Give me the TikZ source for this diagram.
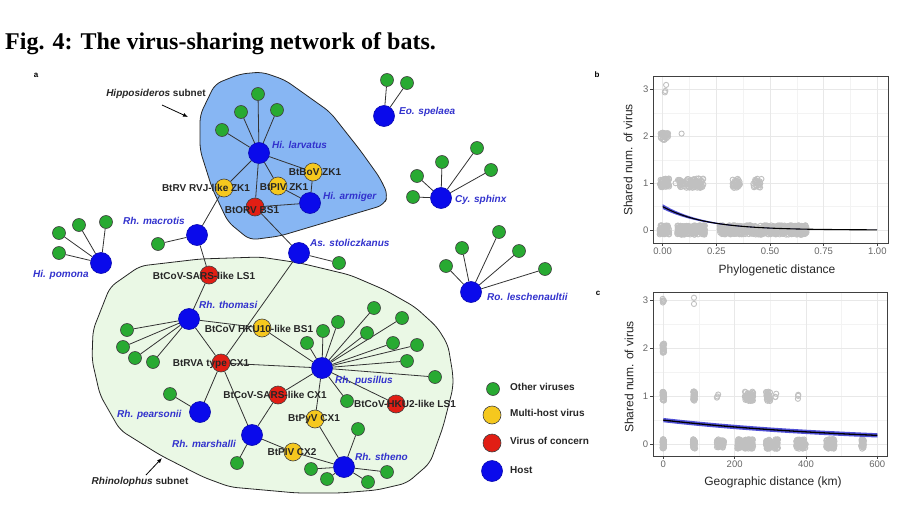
\documentclass[tikz,border=0pt]{standalone}
\usepackage{fontspec}
\setmainfont{Liberation Sans}
\newfontfamily\titlefont{Liberation Serif}
\usetikzlibrary{arrows.meta}
\definecolor{gfill}{RGB}{40,170,50}
\definecolor{yfill}{RGB}{245,200,30}
\definecolor{rfill}{RGB}{225,30,20}
\definecolor{hfill}{RGB}{10,10,235}
\definecolor{hlabel}{RGB}{50,50,205}
\definecolor{hipreg}{RGB}{135,182,243}
\definecolor{rhireg}{RGB}{234,248,229}
\definecolor{ptgray}{RGB}{192,192,192}
\definecolor{ribbonc}{RGB}{80,80,215}
\definecolor{gridmaj}{RGB}{232,232,232}
\definecolor{gridmin}{RGB}{243,243,243}
\pgfdeclarelayer{regions}
\pgfdeclarelayer{edges}
\pgfsetlayers{regions,edges,main}
\newcommand\jitpts[5]{%
  \foreach \i in {1,...,#4}{%
    \pgfmathsetmacro\px{#1+(#2-#1)*rnd}%
    \pgfmathsetmacro\py{#3+#5*rand}%
    \draw[ptst] (\px,\py) circle[radius=2.6pt];}}
\begin{document}
\begin{tikzpicture}[x=1pt,y=-1pt,
  gv/.style={circle, draw=black!75, line width=0.6pt, fill=gfill, minimum size=13pt, inner sep=0pt},
  yv/.style={circle, draw=black!75, line width=0.6pt, fill=yfill, minimum size=18pt, inner sep=0pt},
  rv/.style={circle, draw=black!75, line width=0.6pt, fill=rfill, minimum size=18pt, inner sep=0pt},
  hv/.style={circle, draw=hfill!75!black, line width=0.6pt, fill=hfill, minimum size=21pt, inner sep=0pt},
  hlab/.style={font=\bfseries\itshape\fontsize{10}{11}\selectfont, text=hlabel, anchor=west, inner sep=0pt},
  vlab/.style={font=\bfseries\fontsize{10}{11}\selectfont, text=black!85, inner sep=0pt},
  leglab/.style={font=\bfseries\fontsize{10}{11}\selectfont, text=black!85, anchor=west, inner sep=0pt},
  sublab/.style={font=\bfseries\fontsize{10}{11}\selectfont, text=black!85, inner sep=0pt},
  edge/.style={line width=0.8pt, draw=black!80},
  regline/.style={line width=0.8pt, draw=black!85, rounded corners=7pt},
  ptst/.style={draw=ptgray, line width=0.9pt},
  gmaj/.style={draw=gridmaj, line width=0.6pt},
  gmin/.style={draw=gridmin, line width=0.4pt},
  frame/.style={draw=black!75, line width=0.7pt},
  ticklab/.style={font=\fontsize{9.5}{10}\selectfont, text=black!60, inner sep=1.5pt},
  axtitle/.style={font=\fontsize{12}{13}\selectfont, text=black!85, inner sep=0pt},
  panel/.style={font=\bfseries\fontsize{8}{9}\selectfont, inner sep=0pt}
]
\useasboundingbox (0,0) rectangle (912,516);
\pgfmathsetseed{42}

% title
\node[anchor=base west, inner sep=0pt, font=\titlefont\bfseries\fontsize{24}{26}\selectfont] (title) at (5,50) {Fig. 4: The virus-sharing network of bats.};

% panel letters
\node[panel] (pa) at (36,75) {a};
\node[panel] (pb) at (597,75) {b};
\node[panel] (pc) at (598,293) {c};

% regions
\begin{pgfonlayer}{regions}
\draw[regline, fill=hipreg] (215,84) -- (240,74) -- (262,72) -- (285,80) -- (330,112) -- (360,150) -- (380,178) -- (388,195) -- (384,205) -- (280,236) -- (250,240) -- (228,222) -- (212,188) -- (200,150) -- (200,115) -- cycle;
\draw[regline, fill=rhireg] (110,287) -- (140,266) -- (200,259) -- (260,257) -- (300,263) -- (350,275) -- (385,290) -- (415,307) -- (437,327) -- (448,345) -- (453,375) -- (453,388) -- (443,427) -- (430,463) -- (407,483) -- (377,490) -- (340,493) -- (297,493) -- (230,487) -- (203,477) -- (160,455) -- (120,430) -- (100,395) -- (92,360) -- (93,330) -- cycle;
\end{pgfonlayer}

% subnet labels
\node[sublab] (hipsub) at (156,94) {\itshape Hipposideros\/\upshape{} subnet};
\coordinate (hipa1) at (162,105);
\coordinate (hipa2) at (188,117);
\draw[line width=0.8pt, -{Latex[length=5pt,width=4pt]}] (hipa1) -- (hipa2);
\node[sublab] (rhisub) at (140,482) {\itshape Rhinolophus\/\upshape{} subnet};
\coordinate (rhia1) at (146,475);
\coordinate (rhia2) at (162,458);
\draw[line width=0.8pt, -{Latex[length=5pt,width=4pt]}] (rhia1) -- (rhia2);

% hosts
\node[hv] (hlar) at (259,153) {};
\node[hv] (harm) at (310,203) {};
\node[hv] (eosp) at (384,116) {};
\node[hv] (cysp) at (441,198) {};
\node[hv] (hpom) at (101,263) {};
\node[hv] (rmac) at (197,235) {};
\node[hv] (asto) at (299,253) {};
\node[hv] (rles) at (471,292) {};
\node[hv] (rtho) at (189,319) {};
\node[hv] (rpus) at (322,368) {};
\node[hv] (rpea) at (200,412) {};
\node[hv] (rmar) at (252,435) {};
\node[hv] (rste) at (344,467) {};

% viruses
\node[yv] (rvj) at (224,188) {};
\node[yv] (piv) at (278,186) {};
\node[yv] (bov) at (313,172) {};
\node[rv] (orv) at (255,207) {};
\node[rv] (sarsls) at (209,275) {};
\node[yv] (hku10) at (262,328) {};
\node[rv] (rva) at (221,363) {};
\node[rv] (sarscx) at (278,395) {};
\node[yv] (pyv) at (315,419) {};
\node[rv] (hku2) at (396,404) {};
\node[yv] (piv2) at (293,452) {};

% edges between named nodes
\begin{pgfonlayer}{edges}
\foreach \a/\b in {hlar/orv, hlar/piv, hlar/bov, hlar/rvj, piv/harm, bov/harm, orv/harm, orv/asto,
  rvj/rmac, rmac/sarsls, sarsls/rtho, rtho/hku10, rtho/rva, asto/rva, hku10/rpus, rva/rpus,
  rva/rpea, rva/rmar, rmar/sarscx, sarscx/rpus, rmar/piv2, piv2/rste, pyv/rpus, pyv/rste, hku2/rpus}
  \draw[edge] (\a) -- (\b);
\end{pgfonlayer}

% other viruses (green) with their host connections
\foreach \gx/\gy/\h [count=\k] in {258/94/hlar, 241/112/hlar, 277/110/hlar, 222/130/hlar,
  387/80/eosp, 407/83/eosp,
  413/197/cysp, 417/176/cysp, 442/162/cysp, 477/148/cysp, 491/170/cysp,
  59/233/hpom, 79/225/hpom, 106/222/hpom, 59/253/hpom,
  158/244/rmac, 339/263/asto,
  446/266/rles, 462/248/rles, 499/232/rles, 519/251/rles, 545/269/rles,
  127/330/rtho, 123/347/rtho, 135/358/rtho, 153/362/rtho,
  307/343/rpus, 323/331/rpus, 338/322/rpus, 374/308/rpus, 402/318/rpus, 367/333/rpus,
  393/343/rpus, 417/345/rpus, 407/361/rpus, 435/377/rpus, 347/401/rpus,
  170/394/rpea, 237/463/rmar,
  358/429/rste, 311/469/rste, 327/479/rste, 368/482/rste, 387/472/rste} {
  \node[gv] (g\k) at (\gx,\gy) {};
  \begin{pgfonlayer}{edges}\draw[edge] (g\k) -- (\h);\end{pgfonlayer}
}

% host labels
\node[hlab] (lhlar) at (272,145) {Hi. larvatus};
\node[hlab] (lharm) at (323,197) {Hi. armiger};
\node[hlab] (leosp) at (399,112) {Eo. spelaea};
\node[hlab] (lcysp) at (455,200) {Cy. sphinx};
\node[hlab] (lhpom) at (33,275) {Hi. pomona};
\node[hlab] (lrmac) at (123,221) {Rh. macrotis};
\node[hlab] (lasto) at (310,243) {As. stoliczkanus};
\node[hlab] (lrles) at (487,297) {Ro. leschenaultii};
\node[hlab] (lrtho) at (199,305) {Rh. thomasi};
\node[hlab] (lrpus) at (335,381) {Rh. pusillus};
\node[hlab] (lrpea) at (117,415) {Rh. pearsonii};
\node[hlab] (lrmar) at (172,444) {Rh. marshalli};
\node[hlab] (lrste) at (355,457) {Rh. stheno};

% virus labels
\node[vlab] (lrvj) at (206,188) {BtRV RVJ-like ZK1};
\node[vlab] (lpiv) at (284,187) {BtPIV ZK1};
\node[vlab] (lbov) at (315,172) {BtBoV ZK1};
\node[vlab] (lorv) at (252,210) {BtORV BS1};
\node[vlab] (lsarsls) at (204,276) {BtCoV-SARS-like LS1};
\node[vlab] (lhku10) at (259,329) {BtCoV HKU10-like BS1};
\node[vlab] (lrva) at (211,364) {BtRVA type CX1};
\node[vlab] (lsarscx) at (275,395) {BtCoV-SARS-like CX1};
\node[vlab] (lpyv) at (314,419) {BtPyV CX1};
\node[vlab] (lhku2) at (405,404) {BtCoV-HKU2-like LS1};
\node[vlab] (lpiv2) at (292,452) {BtPIV CX2};

% legend
\node[gv] (leg1) at (493,389) {};
\node[leglab] (legt1) at (510,387) {Other viruses};
\node[yv] (leg2) at (492,415) {};
\node[leglab] (legt2) at (510,413) {Multi-host virus};
\node[rv] (leg3) at (492,443) {};
\node[leglab] (legt3) at (510,441) {Virus of concern};
\node[hv] (leg4) at (492,471) {};
\node[leglab] (legt4) at (510,470) {Host};

% ---------------- panel b ----------------
\begin{scope}[shift={(662.7,230)}, x=214.6pt, y=46.8pt]
  \foreach \gx in {0.125,0.375,0.625,0.875} \draw[gmin] (\gx,-0.28) -- (\gx,3.29);
  \foreach \gy in {0.5,1.5,2.5} \draw[gmin] (-0.045,\gy) -- (1.05,\gy);
  \foreach \gx in {0,0.25,0.5,0.75,1} \draw[gmaj] (\gx,-0.28) -- (\gx,3.29);
  \foreach \gy in {0,1,2,3} \draw[gmaj] (-0.045,\gy) -- (1.05,\gy);
  % points
  \jitpts{-0.015}{0.03}{0}{70}{0.1}
  \jitpts{0.068}{0.197}{0}{200}{0.1}
  \jitpts{0.265}{0.37}{0}{150}{0.1}
  \jitpts{0.37}{0.67}{0}{380}{0.1}
  \jitpts{-0.015}{0.03}{1}{55}{0.1}
  \jitpts{0.07}{0.1}{1}{20}{0.08}
  \jitpts{0.11}{0.19}{1}{70}{0.1}
  \jitpts{0.325}{0.36}{1}{35}{0.1}
  \jitpts{0.42}{0.455}{1}{22}{0.1}
  \jitpts{-0.01}{0.025}{2}{30}{0.08}
  \draw[ptst] (0.088,2.06) circle[radius=2.6pt];
  \draw[ptst] (0.01,2.94) circle[radius=2.6pt];
  \draw[ptst] (0.012,2.97) circle[radius=2.6pt];
  \draw[ptst] (0.016,3.1) circle[radius=2.6pt];
  \draw[ptst] (0.06,1.0) circle[radius=2.6pt];
  \draw[ptst] (0.46,1.09) circle[radius=2.6pt];
  % ribbon and fit
  \fill[ribbonc] plot[domain=0:1, samples=50] (\x,{0.55*exp(-5*\x)}) -- plot[domain=1:0, samples=50] (\x,{0.45*exp(-5*\x)}) -- cycle;
  \draw[black, line width=1.1pt] plot[domain=0:1, samples=60] (\x,{0.5*exp(-5*\x)});
  % frame and ticks
  \draw[frame] (-0.045,-0.28) rectangle (1.05,3.29);
  \foreach \t/\l [count=\k] in {0/0.00,0.25/0.25,0.5/0.50,0.75/0.75,1/1.00} {
    \draw[frame] (\t,-0.28) -- ++(0pt,-3pt);
    \node[ticklab, anchor=north] (bx\k) at ([yshift=-3pt]\t,-0.28) {\l};
  }
  \foreach \t [count=\k] in {0,1,2,3} {
    \draw[frame] (-0.045,\t) -- ++(-3pt,0pt);
    \node[ticklab, anchor=east] (by\k) at ([xshift=-3pt]-0.045,\t) {\t};
  }
\end{scope}
\node[axtitle] (bxt) at (777,270) {Phylogenetic distance};
\node[axtitle, rotate=90] (byt) at (628,160) {Shared num. of virus};

% ---------------- panel c ----------------
\begin{scope}[shift={(663.3,444)}, x=0.3567pt, y=47.8pt]
  \foreach \gx in {100,300,500} \draw[gmin] (\gx,-0.25) -- (\gx,3.18);
  \foreach \gy in {0.5,1.5,2.5} \draw[gmin] (-29,\gy) -- (627,\gy);
  \foreach \gx in {0,200,400,600} \draw[gmaj] (\gx,-0.25) -- (\gx,3.18);
  \foreach \gy in {0,1,2,3} \draw[gmaj] (-29,\gy) -- (627,\gy);
  % points y=0
  \jitpts{-2}{2}{0}{45}{0.1}
  \jitpts{83}{89}{0}{35}{0.1}
  \jitpts{150}{170}{0}{60}{0.1}
  \jitpts{207}{222}{0}{45}{0.1}
  \jitpts{227}{252}{0}{70}{0.1}
  \jitpts{288}{300}{0}{35}{0.1}
  \jitpts{310}{322}{0}{35}{0.1}
  \jitpts{372}{400}{0}{75}{0.1}
  \jitpts{457}{480}{0}{70}{0.1}
  \jitpts{555}{562}{0}{25}{0.1}
  % y=1
  \jitpts{-2}{2}{1}{40}{0.1}
  \jitpts{83}{89}{1}{30}{0.1}
  \jitpts{150}{155}{1}{3}{0.07}
  \jitpts{228}{252}{1}{50}{0.1}
  \jitpts{288}{300}{1}{30}{0.1}
  \jitpts{314}{318}{1}{3}{0.06}
  \jitpts{375}{380}{1}{3}{0.07}
  % y=2, 3
  \jitpts{-2}{2}{2}{30}{0.1}
  \jitpts{-2}{2}{3}{6}{0.04}
  \draw[ptst] (86,3.06) circle[radius=2.6pt];
  \draw[ptst] (86,2.93) circle[radius=2.6pt];
  % ribbon and fit
  \fill[ribbonc] plot[domain=0:600, samples=40] (\x,{0.5*exp(-0.0017*\x)+0.045}) -- plot[domain=600:0, samples=40] (\x,{0.5*exp(-0.0017*\x)-0.045}) -- cycle;
  \draw[black, line width=1.3pt] plot[domain=0:600, samples=40] (\x,{0.5*exp(-0.0017*\x)});
  % frame and ticks
  \draw[frame] (-29,-0.25) rectangle (627,3.18);
  \foreach \t [count=\k] in {0,200,400,600} {
    \draw[frame] (\t,-0.25) -- ++(0pt,-3pt);
    \node[ticklab, anchor=north] (cx\k) at ([yshift=-3pt]\t,-0.25) {\t};
  }
  \foreach \t [count=\k] in {0,1,2,3} {
    \draw[frame] (-29,\t) -- ++(-3pt,0pt);
    \node[ticklab, anchor=east] (cy\k) at ([xshift=-3pt]-29,\t) {\t};
  }
\end{scope}
\node[axtitle] (cxt) at (773,482) {Geographic distance (km)};
\node[axtitle, rotate=90] (cyt) at (629,377) {Shared num. of virus};
\end{tikzpicture}
\end{document}
